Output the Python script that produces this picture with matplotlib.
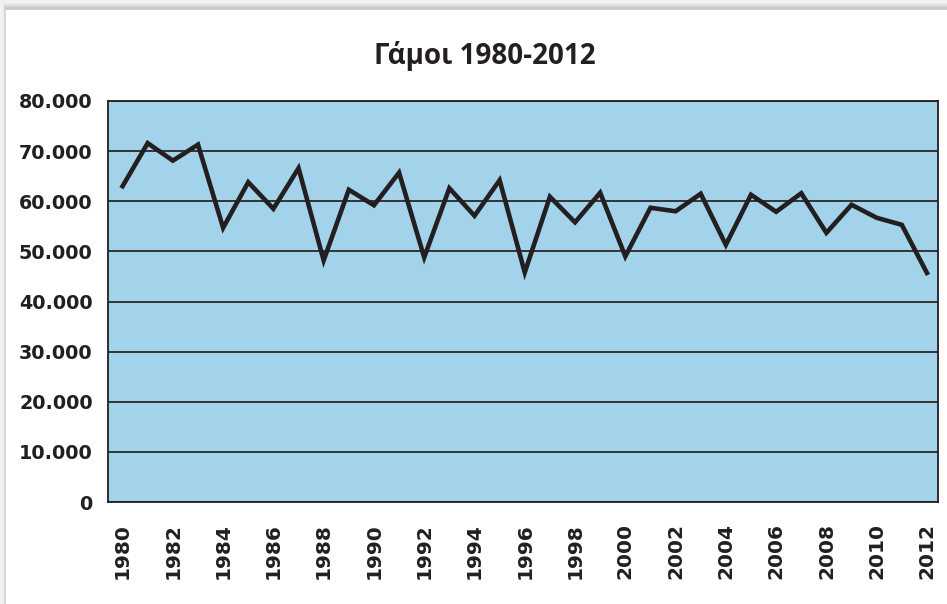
## Γάμοι 1980-2012 - line chart in the Excel style of the source
import numpy as np
import matplotlib
matplotlib.use("Agg")
import matplotlib.pyplot as plt
from matplotlib.ticker import FuncFormatter, MultipleLocator
from matplotlib.patches import Rectangle

##values
years = list(range(1980, 2013))
marriages = [63000, 71600, 68100, 71300, 54700, 63800, 58500, 66600, 48200, 62300,
             59200, 65700, 48800, 62600, 57100, 64200, 45800, 60900, 55800, 61700,
             49000, 58700, 58000, 61500, 51300, 61300, 57900, 61600, 53700, 59300,
             56700, 55300, 45700]
year_ticks = list(range(1980, 2013, 2))
title = "Γάμοι 1980-2012"

fig = plt.figure(figsize=(9.47, 6.04), dpi=100)
fig.patch.set_facecolor("white")

##grey shadow frame at top and left (drawn under the axes)
for i, c in enumerate(["#b8b8b8", "#c8c8c8", "#d8d8d8", "#e6e6e6", "#f2f2f2"]):
    fig.patches.append(Rectangle((0, 1 - (10 - 2 * i) / 604.), 1, (10 - 2 * i) / 604.,
                                 transform=fig.transFigure, color=c, zorder=-2))
    fig.patches.append(Rectangle((0, 0), (6 - i) / 947., 1,
                                 transform=fig.transFigure, color=c, zorder=-2))
fig.patches.append(Rectangle((6 / 947., 0), 1, 1 - 10 / 604.,
                             transform=fig.transFigure, color="white", zorder=-1))

ax = fig.add_axes([108 / 947., 1 - 502 / 604., 830 / 947., 401 / 604.])
ax.set_facecolor("#a2d3ea")

ax.plot(years, marriages, color="#231f20", linewidth=3.3, solid_joinstyle="miter", zorder=3)

ax.set_xlim(1979.42, 2012.44)
ax.set_ylim(0, 80000)
ax.yaxis.set_major_locator(MultipleLocator(10000))
ax.yaxis.set_major_formatter(FuncFormatter(lambda v, p: "{:,}".format(int(v)).replace(",", ".")))
ax.set_xticks(year_ticks)
ax.set_xticklabels([str(y) for y in year_ticks], rotation=90)

ax.grid(axis="y", color="#333333", linewidth=1.4)
ax.set_axisbelow(True)
ax.tick_params(length=0)
ax.tick_params(axis="y", pad=11)
ax.tick_params(axis="x", pad=15)
for lab in ax.get_yticklabels():
    lab.set_fontsize(13.8)
for lab in ax.get_xticklabels():
    lab.set_fontsize(14.5)
for lab in ax.get_yticklabels() + ax.get_xticklabels():
    lab.set_family("DejaVu Sans")
    lab.set_fontweight("bold")
    lab.set_color("#231f20")
for s in ax.spines.values():
    s.set_color("#231f20")
    s.set_linewidth(1.3)

fig.text(485 / 947., 1 - 56 / 604., title, ha="center", va="center",
         fontsize=20, fontweight="bold", family="Open Sans", color="#231f20")

fig.savefig("out.png", dpi=100)
